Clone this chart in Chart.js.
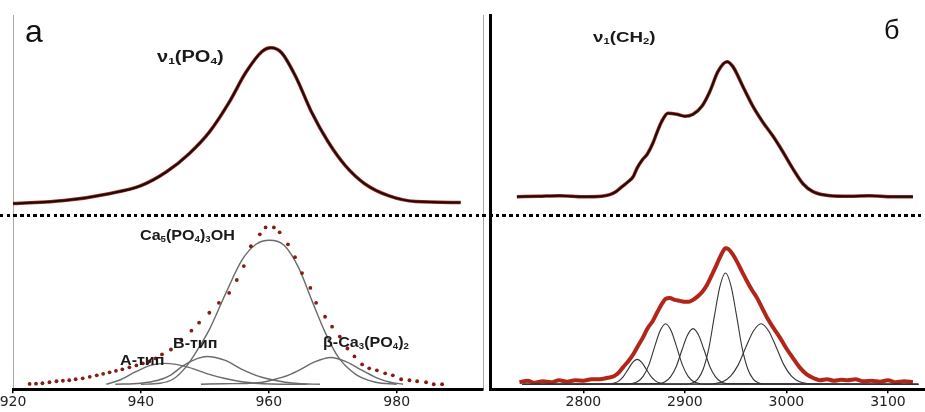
<!DOCTYPE html>
<html>
<head>
<meta charset="utf-8">
<script src="https://cdn.jsdelivr.net/npm/chart.js@4/dist/chart.umd.min.js"></script>
<style>
  body { margin: 0; background: #fff; width: 925px; height: 412px; overflow: hidden; position: relative; }
  .wrap { position: absolute; top: 0; height: 412px; overflow: hidden; }
  .wrap canvas { position: absolute; top: 0; }
  .lbl { position: absolute; font: bold 14px "Liberation Sans", Arial, sans-serif; line-height: 14px;
         color: #1a1a1a; white-space: nowrap; transform: scaleX(1.15); transform-origin: 0 0; z-index: 3; }
  .lbl sub { font-size: 0.6em; vertical-align: -0.2em; line-height: 0; }
  .big { position: absolute; font: 32px "Liberation Sans", Arial, sans-serif; line-height: 32px; color: #111; z-index: 3; }
  .dots { position: absolute; left: 0; top: 214px; width: 925px; height: 3px; z-index: 2;
          background: repeating-linear-gradient(90deg, #000 0 3.5px, transparent 3.5px 6.7px); }
</style>
</head>
<body>
<div class="wrap" style="left:0;width:487px"><canvas id="left" width="494" height="412" style="left:-7px"></canvas></div>
<div class="wrap" style="left:487px;width:438px"><canvas id="right" width="438" height="412" style="left:0"></canvas></div>
<div class="dots"></div>

<div class="big" style="left:25px;top:15px">а</div>
<div class="big" style="left:884px;top:14px;font-size:27px">б</div>
<div class="lbl" style="left:157px;top:49px;font-size:16px;line-height:16px;transform:scaleX(1.25)">ν<sub>1</sub>(PO<sub>4</sub>)</div>
<div class="lbl" style="left:593px;top:29px;font-size:15px;line-height:15px;transform:scaleX(1.25)">ν<sub>1</sub>(CH<sub>2</sub>)</div>
<div class="lbl" style="left:140px;top:228px">Ca<sub>5</sub>(PO<sub>4</sub>)<sub>3</sub>OH</div>
<div class="lbl" style="left:173px;top:336px">B-тип</div>
<div class="lbl" style="left:120px;top:353px">А-тип</div>
<div class="lbl" style="left:323px;top:335px">β-Ca<sub>3</sub>(PO<sub>4</sub>)<sub>2</sub></div>

<script>
// panel а, top: v1(PO4) band
const poWn = [920, 928, 935, 940, 944, 947.5, 950.7, 953.8, 956.4, 958.9, 960.3, 962, 964.2, 966.7, 969.3, 972, 975, 978.7, 983, 990];
const poInt = [11, 14, 21, 29, 43, 61, 83, 113, 143, 164, 168, 163, 139, 103, 73, 49, 31, 19, 13, 12];

// panel а, bottom: measured points (dots)
const poFitWn = [922.6, 923.6, 924.6, 925.7, 926.8, 927.8, 928.8, 929.8, 930.9, 932, 933.1, 934.1, 935.1, 936.1, 937.1,
  938.2, 939.3, 940.3, 941.3, 942.3, 943.3, 944.7, 946.3, 947.9, 949.1,
  950.7, 952.2, 953.8, 955.0, 956.1, 957.2, 958.6, 959.5, 960.8, 961.7, 963.0, 964.1, 965.2, 966.5, 967.4, 968.8,
  969.9, 971.1, 972.3, 973.4, 974.6, 975.7, 976.9, 978.2, 979.4, 980.7, 982.0, 983.2, 984.6, 985.8, 987.1];
const poFitInt = [5.3, 5.6, 6, 7, 8, 8.5, 9, 10, 11, 12.5, 14, 15.5, 17, 18.5, 20,
  22, 24, 26, 28, 31, 35, 40, 50, 59, 67,
  77, 87, 97, 110, 124, 144, 156, 163, 163, 158, 146, 133, 117, 102, 87, 73,
  63, 53, 41, 33, 25, 21, 19, 16, 14, 10, 9, 8, 7, 5, 5];

// panel а, bottom: components
const hapWn = [940, 943, 945, 947, 948.6, 950.7, 953.3, 955.8, 958, 960.1, 962.4, 964.7, 966.7, 968.9, 970.9, 973.6, 976.7, 980];
const hapInt = [5, 6, 10, 22, 37, 60, 97, 130, 146, 150, 145, 122, 90, 56, 32, 15, 7, 5];
const aWn = [934.6, 936.6, 939.3, 941.5, 943.6, 945.5, 947.5, 950.7, 953, 955.8, 959, 962, 966];
const aInt = [5, 9, 18, 24, 26, 25, 22, 15, 11, 7.5, 5.5, 5, 5];
const bWn = [936, 940, 942.7, 944.6, 946.7, 948.9, 950.3, 953.2, 955.8, 958.9, 962.6, 965, 968];
const bInt = [5, 6, 9, 14, 24, 31, 33, 29, 20, 12, 7, 5.5, 5];
const tcpWn = [949.4, 953, 957, 959, 961, 963, 965, 967, 969.7, 972, 974, 976.7, 979, 981];
const tcpInt = [5, 5.5, 6, 7, 10, 14, 20, 27, 32, 28, 21, 12, 7, 5];

// panel б, top: v1(CH2) band
const chWn = [2734.5, 2756, 2776.8, 2800, 2818, 2826, 2832, 2838, 2844, 2849, 2853, 2858, 2863, 2868.5, 2873, 2877.3, 2883.3,
  2892, 2900, 2908, 2916.7, 2924.6, 2932.5, 2941.4, 2947.3, 2957.1, 2967, 2976.8, 2986.7, 2996.6, 3006.4, 3016.3,
  3026.1, 3042.9, 3062, 3082, 3104, 3124.6];
const chInt = [18, 18.5, 19, 18, 18.5, 20, 23, 28, 33, 38, 47, 55, 61, 72, 84, 94, 102,
  101, 99, 101, 109, 124, 144, 154, 149, 129, 109, 93, 79, 63, 46, 31,
  23, 19, 18.5, 19, 18, 18];

// panel б, bottom: measured spectrum
const chFitWn = [2737, 2745, 2752, 2760, 2768, 2776, 2784, 2792, 2800, 2808, 2816, 2824, 2830, 2835, 2839, 2844, 2849, 2854,
  2858.6, 2863, 2868.5, 2873, 2877.3, 2881, 2885, 2890, 2895, 2900, 2904, 2908, 2912, 2917, 2921.7, 2926, 2931.5, 2936,
  2940, 2943, 2947, 2951, 2956, 2961, 2966, 2971, 2976, 2981, 2987, 2993.6, 3000, 3006, 3013, 3020, 3027, 3033, 3040,
  3047, 3054, 3060, 3068, 3076, 3084, 3092, 3100, 3108, 3116, 3124.6];
const chFitInt = [7, 8.5, 6.5, 8, 7, 9, 7.5, 9, 8.5, 10, 10, 11.5, 13, 17, 22, 28, 35, 44,
  52, 61, 69, 78, 86, 91, 92, 90, 89, 88, 88, 90, 93, 98, 105, 114, 126, 136,
  142, 141, 136, 129, 119, 109, 100, 92, 82, 72, 62, 52, 41, 32, 22, 15, 11, 9, 10,
  8.5, 9.5, 9, 10, 8, 8.5, 7.5, 9, 7, 8, 7];

// panel б, bottom: components
const c1Wn = [2740, 2826, 2830.5, 2835, 2839.5, 2844, 2848.5, 2853, 2857.5, 2862, 2866.5, 2871, 2875.5, 2880, 3130];
const c1Int = [5, 5.3, 6.1, 8.4, 13, 20, 27, 30, 27, 20, 13, 8.4, 6.1, 5.3, 5];
const c2Wn = [2740, 2843, 2848, 2853.5, 2859, 2864.5, 2870, 2875.5, 2881, 2886.5, 2892, 2897.5, 2903, 2908.5, 2914, 2919, 3130];
const c2Int = [5, 5.1, 5.7, 7.7, 13.2, 24.5, 42.2, 58.7, 66, 58.7, 42.2, 24.5, 13.2, 7.7, 5.7, 5.1, 5];
const c3Wn = [2740, 2875, 2880.5, 2886, 2891.5, 2897, 2902.5, 2908, 2913.5, 2919, 2924.5, 2930, 2935.5, 2941, 3130];
const c3Int = [5, 5.6, 7.5, 12.6, 22.9, 39.2, 54.3, 61, 54.3, 39.2, 22.9, 12.6, 7.5, 5.6, 5];
const c4Wn = [2740, 2902, 2907, 2912.5, 2918, 2923.5, 2929, 2934.5, 2940, 2945.5, 2951, 2956.5, 2962, 2967.5, 2973, 2978, 3130];
const c4Int = [5, 5.2, 6.2, 9.9, 20.1, 40.8, 73.3, 103.6, 117, 103.6, 73.3, 40.8, 20.1, 9.9, 6.2, 5.2, 5];
const c5Wn = [2740, 2923, 2930, 2937.5, 2945, 2952.5, 2960, 2967.5, 2975, 2982.5, 2990, 2997.5, 3005, 3012.5, 3020, 3027, 3130];
const c5Int = [5, 5.1, 5.7, 7.7, 13.2, 24.5, 42.2, 58.7, 66, 58.7, 42.2, 24.5, 13.2, 7.7, 5.7, 5.1, 5];

const leftTicks = [920, 940, 960, 980];
const rightTicks = [2800, 2900, 3000, 3100];

function pts(xs, ys) {
  return xs.map((x, i) => ({ x: x, y: ys[i] }));
}

const red = "rgb(178,38,26)";
const dotRed = "rgb(135,28,18)";
const gray = "#6a6a6a";

function line(data, axis, color, width) {
  return {
    data: data, yAxisID: axis, borderColor: color, borderWidth: width,
    pointRadius: 0, fill: false, cubicInterpolationMode: "monotone"
  };
}

function xAxis(min, max, ticks) {
  return {
    type: "linear", position: "bottom", min: min, max: max,
    afterBuildTicks: (s) => { s.ticks = ticks.map((v) => ({ value: v })); },
    ticks: { color: "#222", padding: 1, callback: (v) => String(v),
      font: { family: "DejaVu Sans", size: 14 } },
    grid: { display: true, drawOnChartArea: false, drawTicks: true, tickLength: 4, color: "#000", lineWidth: 1.5 },
    border: { display: true, color: "#000", width: 3 }
  };
}

function yAxis(weight, max, borderColor, borderWidth) {
  return {
    type: "linear", position: "left", stack: "p", stackWeight: weight, min: 0, max: max,
    ticks: { display: false }, grid: { display: false, drawTicks: false },
    border: { display: true, color: borderColor, width: borderWidth }
  };
}

const common = {
  responsive: false, animation: false, devicePixelRatio: 1,
  plugins: { legend: { display: false }, tooltip: { enabled: false } }
};

// stacked axes are laid out bottom-up, so yBot comes first
new Chart(document.getElementById("left"), {
  type: "line",
  data: {
    datasets: [
      line(pts(poWn, poInt), "yTop", "#111", 2),
      line(pts(poWn, poInt), "yTop", red, 3.5),
      {
        data: pts(poFitWn, poFitInt), yAxisID: "yBot", showLine: false,
        pointRadius: 1.9, pointBorderWidth: 0, pointBackgroundColor: dotRed
      },
      line(pts(hapWn, hapInt), "yBot", gray, 1.4),
      line(pts(aWn, aInt), "yBot", gray, 1.4),
      line(pts(bWn, bInt), "yBot", gray, 1.4),
      line(pts(tcpWn, tcpInt), "yBot", gray, 1.4)
    ]
  },
  options: Object.assign({}, common, {
    layout: { padding: { left: 20, right: 1.5, top: 15, bottom: 0 } },
    scales: {
      yBot: yAxis(176, 176, "#aaa", 1),
      yTop: yAxis(201, 201, "#aaa", 1),
      yFrame: {
        type: "linear", position: "right", min: 0, max: 1,
        ticks: { display: false }, grid: { display: false, drawTicks: false },
        border: { display: true, color: "#aaa", width: 1 }
      },
      x: xAxis(920, 993.5, leftTicks)
    }
  })
});

new Chart(document.getElementById("right"), {
  type: "line",
  data: {
    datasets: [
      line(pts(chWn, chInt), "yTop", "#111", 2),
      line(pts(chWn, chInt), "yTop", red, 3.5),
      line(pts(c1Wn, c1Int), "yBot", "#333", 1.1),
      line(pts(c2Wn, c2Int), "yBot", "#333", 1.1),
      line(pts(c3Wn, c3Int), "yBot", "#333", 1.1),
      line(pts(c4Wn, c4Int), "yBot", "#333", 1.1),
      line(pts(c5Wn, c5Int), "yBot", "#333", 1.1),
      line(pts(chFitWn, chFitInt), "yBot", red, 4)
    ]
  },
  options: Object.assign({}, common, {
    layout: { padding: { left: 3, right: 0, top: 15, bottom: 0 } },
    scales: {
      yBot: yAxis(176, 176, "#000", 3),
      yTop: yAxis(201, 201, "#000", 3),
      x: xAxis(2708, 3136.5, rightTicks)
    }
  })
});
</script>
</body>
</html>
